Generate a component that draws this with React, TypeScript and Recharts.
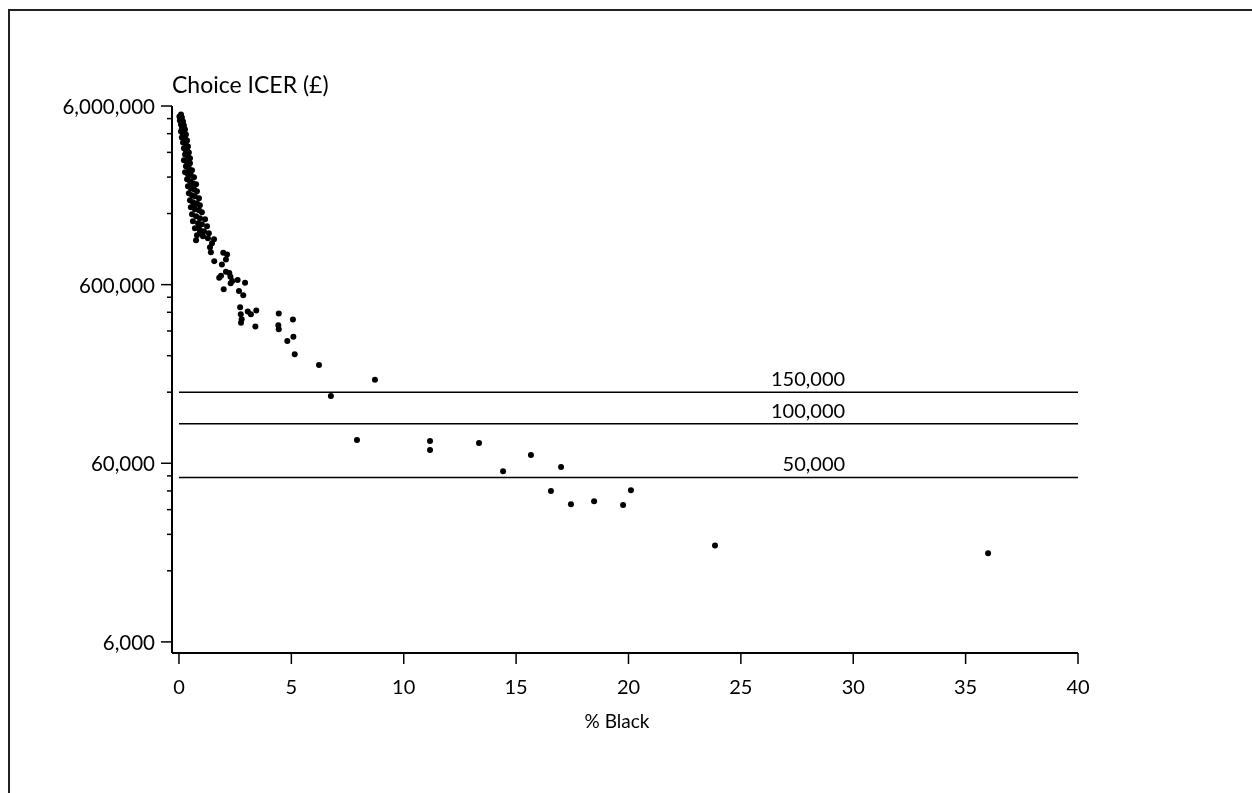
import React from 'react';
import { ScatterChart, Scatter, XAxis, YAxis, ReferenceLine } from 'recharts';

const FONT = 'Lato, "Open Sans", sans-serif';
const W = 1236;
const H = 777;

const X_TICKS = [0, 5, 10, 15, 20, 25, 30, 35, 40];
const Y_MAJOR_TICKS = [6000, 60000, 600000, 6000000];
const Y_MAJOR_LABELS = ['6,000', '60,000', '600,000', '6,000,000'];
const Y_MINOR_TICKS = [
  15000, 24000, 33000, 42000, 51000,
  150000, 240000, 330000, 420000, 510000,
  1500000, 2400000, 3300000, 4200000, 5100000,
];
const THRESHOLD_VALUES = [150000, 100000, 50000];
const THRESHOLD_LABELS = ['150,000', '100,000', '50,000'];
const Y_TITLE = 'Choice ICER (£)';
const X_TITLE = '% Black';

const PCT_BLACK = [
  // sparse points
  6.23, 8.72, 6.76, 7.92, 11.17, 11.17, 13.35, 14.42, 15.66, 17.0, 16.55, 17.44, 18.47, 19.76, 20.11, 23.85, 36.0,
  // middle group
  5.15, 4.82, 5.09, 4.44, 5.07, 4.42, 4.44, 3.40, 3.44, 3.20, 3.06, 2.72, 2.75, 2.79, 2.76, 2.94,
  2.86, 2.67, 2.61, 2.37, 2.30, 1.99, 2.29, 2.24, 2.09, 1.87, 1.79, 1.91, 1.57, 2.09, 2.14, 1.97,
  // dense band
  0.09, 0.02, 0.13, 0.04, 0.18, 0.09, 0.22, 0.13, 0.27, 0.09,
  0.22, 0.31, 0.13, 0.27, 0.36, 0.18, 0.31, 0.40, 0.22, 0.36,
  0.44, 0.27, 0.40, 0.49, 0.22, 0.36, 0.49, 0.31, 0.44, 0.58,
  0.27, 0.40, 0.53, 0.67, 0.36, 0.49, 0.62, 0.76, 0.40, 0.53,
  0.67, 0.80, 0.44, 0.58, 0.71, 0.89, 0.49, 0.62, 0.80, 0.93,
  0.53, 0.71, 0.89, 1.02, 0.58, 0.76, 0.93, 1.16, 0.62, 0.85,
  1.02, 1.25, 0.71, 0.93, 1.11, 1.33, 0.80, 1.07, 1.29, 0.76,
  0.93, 1.47, 1.56, 1.38, 1.42, 0.89, 0.31, 0.18, 0.49, 0.67,
];

const CHOICE_ICER = [
  // sparse points
  213000, 176000, 143000, 81000, 80000, 71200, 78000, 54200, 66800, 57100, 41900, 35400, 36800, 35000, 42400, 20800, 18800,
  // middle group
  244700, 290000, 306000, 414000, 383000, 356000, 338000, 350000, 430000, 410000, 425000, 448000, 409000, 384000, 367000, 614000,
  524000, 552000, 636000, 628000, 610000, 566000, 664000, 698000, 708000, 672000, 655000, 778000, 812000, 830000, 885000, 904000,
  // dense band
  5380000, 5243000, 5176000, 4980000, 4917000, 4731000, 4670000, 4494000, 4436000, 4324000,
  4214000, 4160000, 4002000, 3951000, 3851000, 3753000, 3658000, 3565000, 3475000, 3386000,
  3300000, 3216000, 3135000, 3055000, 2977000, 2902000, 2864000, 2756000, 2686000, 2617000,
  2551000, 2486000, 2454000, 2392000, 2331000, 2272000, 2214000, 2186000, 2130000, 2076000,
  2050000, 1998000, 1947000, 1897000, 1873000, 1826000, 1779000, 1734000, 1712000, 1668000,
  1626000, 1585000, 1564000, 1525000, 1486000, 1448000, 1412000, 1394000, 1358000, 1324000,
  1307000, 1273000, 1241000, 1210000, 1194000, 1164000, 1134000, 1120000, 1091000, 1064000,
  1164000, 1023000, 1077000, 972000, 911000, 1273000, 3386000, 4107000, 2551000, 1668000,
];

const DATA = PCT_BLACK.map((x, i) => ({ x, y: CHOICE_ICER[i] }));
const Y_TICKS = [...Y_MAJOR_TICKS, ...Y_MINOR_TICKS].sort((a, b) => a - b);

const YTick = (props: any) => {
  const { x, y, payload } = props;
  const idx = Y_MAJOR_TICKS.indexOf(payload.value);
  const major = idx >= 0;
  return (
    <g>
      <line x1={x - (major ? 11 : 5)} x2={x} y1={y} y2={y} stroke="#000" strokeWidth={1.5} />
      {major && (
        <text x={x - 17} y={y} textAnchor="end" dominantBaseline="central" fontFamily={FONT} fontSize={20.5} fill="#000">
          {Y_MAJOR_LABELS[idx]}
        </text>
      )}
    </g>
  );
};

const XTick = (props: any) => {
  const { x, y, payload } = props;
  return (
    <g>
      <line x1={x} x2={x} y1={y} y2={y + 11} stroke="#000" strokeWidth={1.5} />
      <text x={x} y={y + 33} textAnchor="middle" dominantBaseline="central" fontFamily={FONT} fontSize={20} fill="#000">
        {payload.value}
      </text>
    </g>
  );
};

const Dot = (props: any) => <circle cx={props.cx} cy={props.cy} r={3} fill="#000" />;

const refLabel = (text: string) => (props: any) => {
  const vb = props.viewBox || {};
  return (
    <text x={vb.x + 0.741 * vb.width} y={vb.y - 6} textAnchor="end" fontFamily={FONT} fontSize={20} fill="#000">
      {text}
    </text>
  );
};

const yTitle = (props: any) => {
  const vb = props.viewBox || {};
  return (
    <text x={vb.x + vb.width} y={vb.y - 13} textAnchor="start" fontFamily={FONT} fontSize={23} fill="#000">
      {Y_TITLE}
    </text>
  );
};

const xTitle = () => (
  <text x={609} y={712} textAnchor="middle" dominantBaseline="central" fontFamily={FONT} fontSize={19} fill="#000">
    {X_TITLE}
  </text>
);

export default function App() {
  return (
    <div style={{ position: 'relative', width: W, height: H, background: '#fff' }}>
      <div
        style={{
          position: 'fixed',
          left: 8,
          top: 9,
          width: 2000,
          height: 2000,
          borderLeft: '2px solid #222',
          borderTop: '2px solid #222',
          boxSizing: 'border-box',
          pointerEvents: 'none',
        }}
      />
      <div style={{ position: 'absolute', left: 0, top: 0 }}>
        <ScatterChart width={W} height={H} margin={{ top: 98, right: 166, bottom: 92, left: 64 }}>
          <XAxis
            type="number"
            dataKey="x"
            domain={[-0.31, 40]}
            ticks={X_TICKS}
            interval={0}
            allowDataOverflow
            height={40}
            tickSize={0}
            tickMargin={0}
            tick={<XTick />}
            axisLine={{ stroke: '#000', strokeWidth: 2 }}
            tickLine={false}
            label={{ content: xTitle }}
          />
          <YAxis
            type="number"
            dataKey="y"
            scale="log"
            domain={[5200, 6000000]}
            ticks={Y_TICKS}
            interval={0}
            allowDataOverflow
            width={100}
            tickSize={0}
            tickMargin={0}
            tick={<YTick />}
            axisLine={{ stroke: '#000', strokeWidth: 2 }}
            tickLine={false}
            label={{ content: yTitle }}
          />
          {THRESHOLD_VALUES.map((v, i) => (
            <ReferenceLine
              key={v}
              stroke="#000"
              strokeWidth={1.5}
              segment={[{ x: 0, y: v }, { x: 40, y: v }]}
              label={{ content: refLabel(THRESHOLD_LABELS[i]) }}
            />
          ))}
          <Scatter data={DATA} dataKey="y" fill="#000" shape={Dot} isAnimationActive={false} />
        </ScatterChart>
      </div>
    </div>
  );
}
